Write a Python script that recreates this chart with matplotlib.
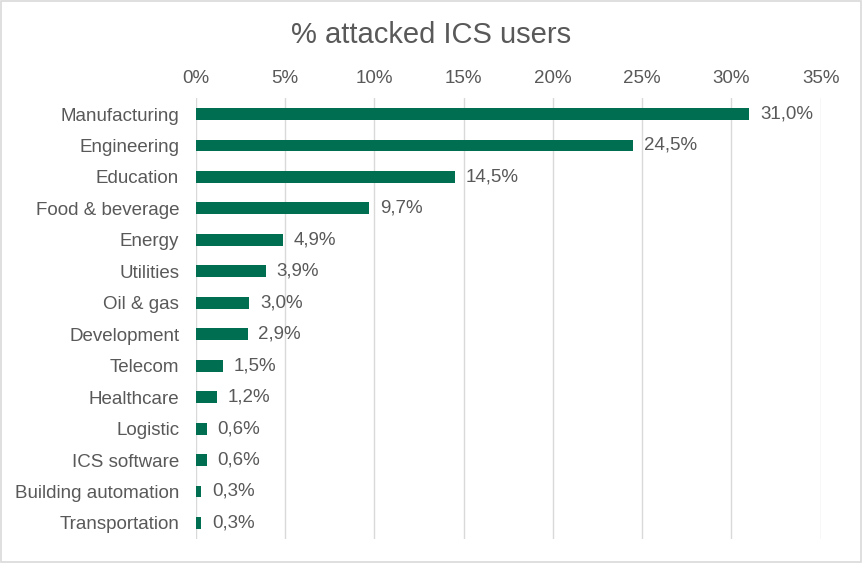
import matplotlib
matplotlib.use("Agg")
import matplotlib.pyplot as plt
from matplotlib.patches import Rectangle

categories = ["Manufacturing", "Engineering", "Education", "Food & beverage", "Energy",
              "Utilities", "Oil & gas", "Development", "Telecom", "Healthcare",
              "Logistic", "ICS software", "Building automation", "Transportation"]
values = [31.0, 24.5, 14.5, 9.7, 4.9, 3.9, 3.0, 2.9, 1.5, 1.2, 0.6, 0.6, 0.3, 0.3]
ticks = [0, 5, 10, 15, 20, 25, 30, 35]

plt.rcParams['font.family'] = ['Liberation Sans', 'DejaVu Sans']
gray = '#595959'

fig = plt.figure(figsize=(8.63, 5.63), dpi=100)
fig.patches.append(Rectangle((0.001, 0.001), 0.997, 0.997, transform=fig.transFigure,
                             fill=False, edgecolor='#D9D9D9', linewidth=1.2))
ax = fig.add_axes([0.227, 0.0432, 0.724, 0.7822])
y = list(range(len(categories)))
ax.barh(y, values, height=0.38, color='#006F51', zorder=3)
ax.set_ylim(len(categories) - 0.5, -0.5)
ax.set_xlim(0, 35)
ax.set_xticks(ticks)
ax.set_xticklabels([f"{t}%" for t in ticks])
ax.xaxis.tick_top()
ax.set_yticks(y)
ax.set_yticklabels(categories)
ax.tick_params(axis='both', length=0, labelsize=13.5, colors=gray)
ax.tick_params(axis='x', pad=8)
ax.tick_params(axis='y', pad=12)
ax.grid(axis='x', color='#D9D9D9', linewidth=1, zorder=0)
for s in ax.spines.values():
    s.set_visible(False)
for yi, v in zip(y, values):
    ax.text(v + 0.6, yi, f"{v:.1f}%".replace('.', ','), va='center', ha='left',
            fontsize=13.5, color=gray)
fig.text(0.5, 0.937, "% attacked ICS users", ha='center', va='center', fontsize=21, color=gray)
fig.savefig("out.png", dpi=100)
